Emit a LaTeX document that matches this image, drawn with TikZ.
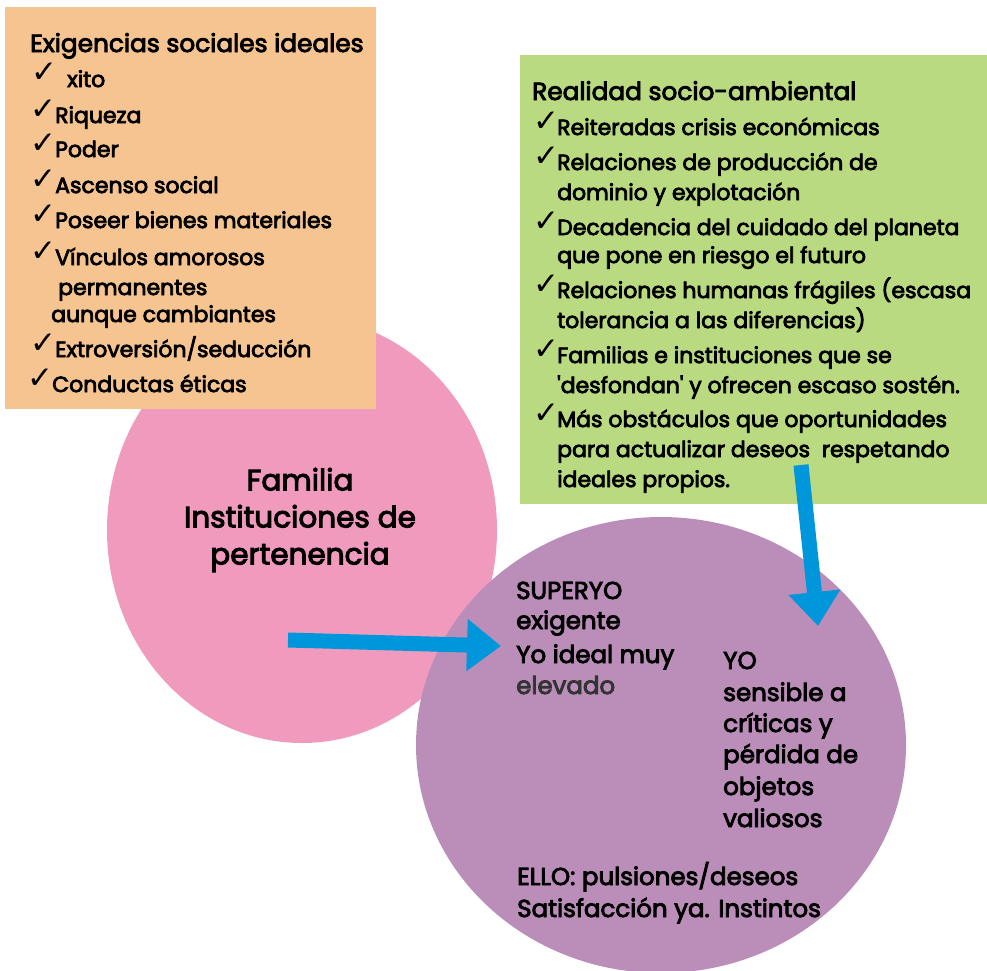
\documentclass[tikz,border=0pt]{standalone}
\usepackage{fontspec}
\setmainfont{Poppins}[FakeBold=3.5]
\newfontfamily\checkfont{DejaVu Sans}
\usetikzlibrary{arrows.meta}
\definecolor{peach}{RGB}{245,196,144}
\definecolor{leaf}{RGB}{185,218,129}
\definecolor{rose}{RGB}{240,155,190}
\definecolor{lilac}{RGB}{187,142,186}
\definecolor{sky}{RGB}{0,150,220}
\newcommand{\tick}{\smash{\makebox[0pt][l]{\checkfont\bfseries ✓}}}
\begin{document}
\begin{tikzpicture}[x=1pt,y=-1pt,
    hd/.style={anchor=base west,inner sep=0pt,font=\fontsize{24.8}{24}\selectfont},
    txt/.style={anchor=base west,inner sep=0pt,font=\fontsize{22}{22}\selectfont},
    gtxt/.style={anchor=base west,inner sep=0pt,font=\fontsize{22}{22}\selectfont},
    ptxt/.style={anchor=base west,inner sep=0pt,font=\fontsize{24.5}{24.5}\selectfont},
    ck/.style={anchor=base west,inner sep=0pt,font=\fontsize{31}{31}\selectfont},
    bigarrow/.style={draw=sky,line width=15pt,-{Triangle[length=34pt,width=50pt]}}]
    \useasboundingbox (0,0) rectangle (987,970);
    % circles and boxes
    \fill [rose] (302,530) ellipse [x radius=195,y radius=213];
    \fill [peach] (5,7) rectangle (376,409);
    \fill [leaf] (520,55) rectangle (987,504);
    \fill [lilac] (661,745) ellipse [x radius=245,y radius=228];
    % exigencias
    \node [hd] (exhead) at (30,52) {Exigencias sociales ideales};
    \node [ck] (ck1) at (31,82) {\tick};
    \node [txt] (ex1) at (67,87) {xito};
    \node [ck] (ck2) at (30,119) {\tick};
    \node [txt] (ex2) at (55,123) {Riqueza};
    \node [ck] (ck3) at (30,153) {\tick};
    \node [txt] (ex3) at (55,157) {Poder};
    \node [ck] (ck4) at (30,189) {\tick};
    \node [txt] (ex4) at (55,193) {Ascenso social};
    \node [ck] (ck5) at (30,224) {\tick};
    \node [txt] (ex5) at (55,228) {Poseer bienes materiales};
    \node [ck] (ck6) at (30,261) {\tick};
    \node [txt] (ex6) at (55,265) {Vínculos amorosos};
    \node [txt] (ex6b) at (58,295) {permanentes};
    \node [txt] (ex6c) at (51,322) {aunque cambiantes};
    \node [ck] (ck7) at (30,353) {\tick};
    \node [txt] (ex7) at (55,357) {Extroversión/seducción};
    \node [ck] (ck8) at (27,388) {\tick};
    \node [txt] (ex8) at (52,392) {Conductas éticas};
    % realidad
    \node [hd] (rehead) at (532,100) {Realidad socio-ambiental};
    \node [ck] (rck1) at (533,131) {\tick};
    \node [gtxt] (re1) at (557,135) {Reiteradas crisis económicas};
    \node [ck] (rck2) at (533,166) {\tick};
    \node [gtxt] (re2) at (557,170) {Relaciones de producción de};
    \node [gtxt] (re2b) at (557,200) {dominio y explotación};
    \node [ck] (rck3) at (533,231) {\tick};
    \node [gtxt] (re3) at (557,235) {Decadencia del cuidado del planeta};
    \node [gtxt] (re3b) at (557,263) {que pone en riesgo el futuro};
    \node [ck] (rck4) at (533,294) {\tick};
    \node [gtxt] (re4) at (557,298) {Relaciones humanas frágiles (escasa};
    \node [gtxt] (re4b) at (557,328) {tolerancia a las diferencias)};
    \node [ck] (rck5) at (533,359) {\tick};
    \node [gtxt] (re5) at (557,363) {Familias e instituciones que se};
    \node [gtxt] (re5b) at (557,393) {\textquotesingle desfondan\textquotesingle\ y ofrecen escaso sostén.};
    \node [ck] (rck6) at (533,423) {\tick};
    \node [gtxt] (re6) at (557,427) {Más obstáculos que oportunidades};
    \node [gtxt] (re6b) at (557,457) {para actualizar deseos\ \ respetando};
    \node [gtxt] (re6c) at (557,487) {ideales propios.};
    % familia
    \node [align=center,font=\fontsize{29.5}{37}\selectfont] (familia) at (300,520)
        {Familia\\Instituciones de\\pertenencia};
    % aparato psiquico
    \node [ptxt] (sup1) at (516,599) {SUPERYO};
    \node [ptxt] (sup2) at (516,629) {exigente};
    \node [ptxt] (sup3) at (516,663) {Yo ideal muy};
    \node [ptxt,text=black!80] (sup4) at (516,694) {elevado};
    \node [ptxt] (yo1) at (723,669) {YO};
    \node [ptxt] (yo2) at (723,701) {sensible a};
    \node [ptxt] (yo3) at (723,732) {críticas y};
    \node [ptxt] (yo4) at (723,763) {pérdida de};
    \node [ptxt] (yo5) at (723,795) {objetos};
    \node [ptxt] (yo6) at (723,827) {valiosos};
    \node [ptxt] (ello1) at (517,885) {ELLO: pulsiones/deseos};
    \node [ptxt] (ello2) at (517,917) {Satisfacción ya. Instintos};
    % flechas
    \coordinate (famout) at (288,640);
    \coordinate (supin) at (501,646);
    \coordinate (realout) at (801,465);
    \coordinate (yoin) at (818,626);
    \draw [bigarrow] (famout) -- (supin);
    \draw [bigarrow] (realout) -- (yoin);
\end{tikzpicture}
\end{document}
